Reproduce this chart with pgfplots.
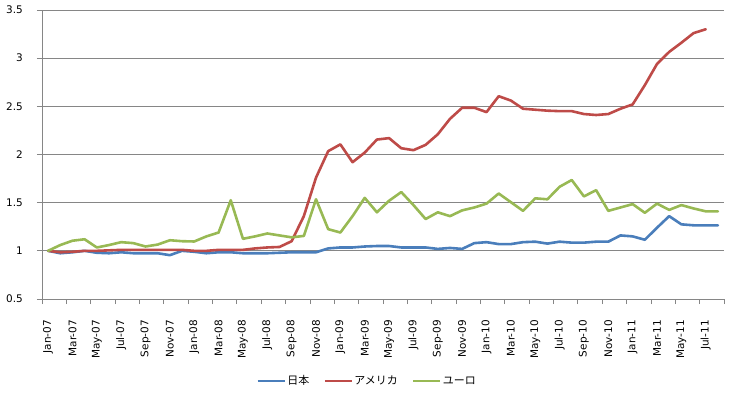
\documentclass[border=0pt]{standalone}
\usepackage{pgfplots}
\pgfplotsset{compat=1.18}
\usepackage{pgfplotstable}
\usepackage{fontspec}
\setmainfont{DejaVu Sans}
\newfontfamily\jp{Noto Sans CJK JP}
\definecolor{cjp}{HTML}{4A7EBB}
\definecolor{cus}{HTML}{BE4B48}
\definecolor{ceu}{HTML}{98B954}
\definecolor{gridc}{HTML}{868686}

\pgfplotstableread{
i jp us eu
0 1.000 1.000 1.000
1 0.975 0.985 1.060
2 0.985 0.990 1.105
3 1.000 1.000 1.120
4 0.980 1.000 1.035
5 0.975 1.005 1.060
6 0.985 1.010 1.090
7 0.975 1.010 1.080
8 0.975 1.010 1.045
9 0.975 1.010 1.065
10 0.955 1.010 1.110
11 1.000 1.010 1.100
12 0.990 1.000 1.097
13 0.975 1.000 1.150
14 0.985 1.010 1.190
15 0.985 1.010 1.525
16 0.975 1.010 1.125
17 0.975 1.025 1.150
18 0.975 1.035 1.180
19 0.980 1.040 1.160
20 0.985 1.100 1.140
21 0.985 1.360 1.155
22 0.985 1.760 1.535
23 1.025 2.035 1.225
24 1.035 2.105 1.190
25 1.035 1.920 1.360
26 1.045 2.020 1.550
27 1.050 2.155 1.400
28 1.050 2.170 1.520
29 1.035 2.065 1.610
30 1.035 2.045 1.475
31 1.035 2.100 1.330
32 1.020 2.210 1.400
33 1.030 2.370 1.360
34 1.020 2.485 1.420
35 1.080 2.485 1.450
36 1.090 2.440 1.490
37 1.070 2.605 1.595
38 1.070 2.560 1.505
39 1.090 2.475 1.415
40 1.095 2.465 1.545
41 1.075 2.455 1.535
42 1.095 2.450 1.665
43 1.085 2.450 1.735
44 1.085 2.420 1.565
45 1.095 2.410 1.630
46 1.095 2.420 1.415
47 1.160 2.475 1.450
48 1.150 2.520 1.485
49 1.115 2.720 1.395
50 1.240 2.940 1.490
51 1.360 3.065 1.425
52 1.275 3.160 1.475
53 1.265 3.260 1.440
54 1.265 3.300 1.410
55 1.265 nan 1.410
}\data

\begin{document}
\begin{tikzpicture}
\useasboundingbox (0,0) rectangle (732bp,398bp);
\begin{axis}[
  at={(42bp,99bp)}, anchor=south west,
  scale only axis, width=682bp, height=289bp,
  xmin=-0.5, xmax=55.5, ymin=0.5, ymax=3.5,
  ytick={0.5,1,...,3.5},
  yticklabels={0.5,1,1.5,2,2.5,3,3.5},
  xtick={-0.5,1.5,...,55.5},
  xticklabels={Jan-07,Mar-07,May-07,Jul-07,Sep-07,Nov-07,Jan-08,Mar-08,May-08,Jul-08,Sep-08,Nov-08,Jan-09,Mar-09,May-09,Jul-09,Sep-09,Nov-09,Jan-10,Mar-10,May-10,Jul-10,Sep-10,Nov-10,Jan-11,Mar-11,May-11,Jul-11,{}},
  tick style={draw=gridc, line width=0.8bp},
  tick align=outside,
  major tick length=5bp,
  axis x line*=bottom, axis y line*=left,
  axis line style={draw=gridc, line width=0.8bp, -},
  ymajorgrids,
  grid style={draw=gridc, line width=0.8bp},
  xticklabel style={xshift=6.09bp, yshift=-16bp, rotate=90, anchor=east, font=\fontsize{10.5}{12}\selectfont, inner sep=0bp},
  yticklabel style={xshift=-14bp, font=\fontsize{10.5}{12}\selectfont, inner sep=0bp},
  unbounded coords=discard,
  legend columns=3,
  legend style={at={(0.4765,-0.284)}, anchor=center, draw=none, fill=none,
    font=\jp\fontsize{11}{12}\selectfont,
    nodes={inner sep=1.5bp},
    /tikz/every even column/.append style={column sep=13bp}},
  legend image code/.code={\draw[#1, line width=2.2bp, line cap=butt] (0bp,0bp) -- (27bp,0bp);},
  every axis plot/.append style={line width=2.6bp, line join=round, line cap=round},
]
\addplot[cjp] table[x=i, y=jp] {\data};
\addlegendentry{日本}
\addplot[cus] table[x=i, y=us] {\data};
\addlegendentry{アメリカ}
\addplot[ceu] table[x=i, y=eu] {\data};
\addlegendentry{ユーロ}
\end{axis}
\end{tikzpicture}
\end{document}
